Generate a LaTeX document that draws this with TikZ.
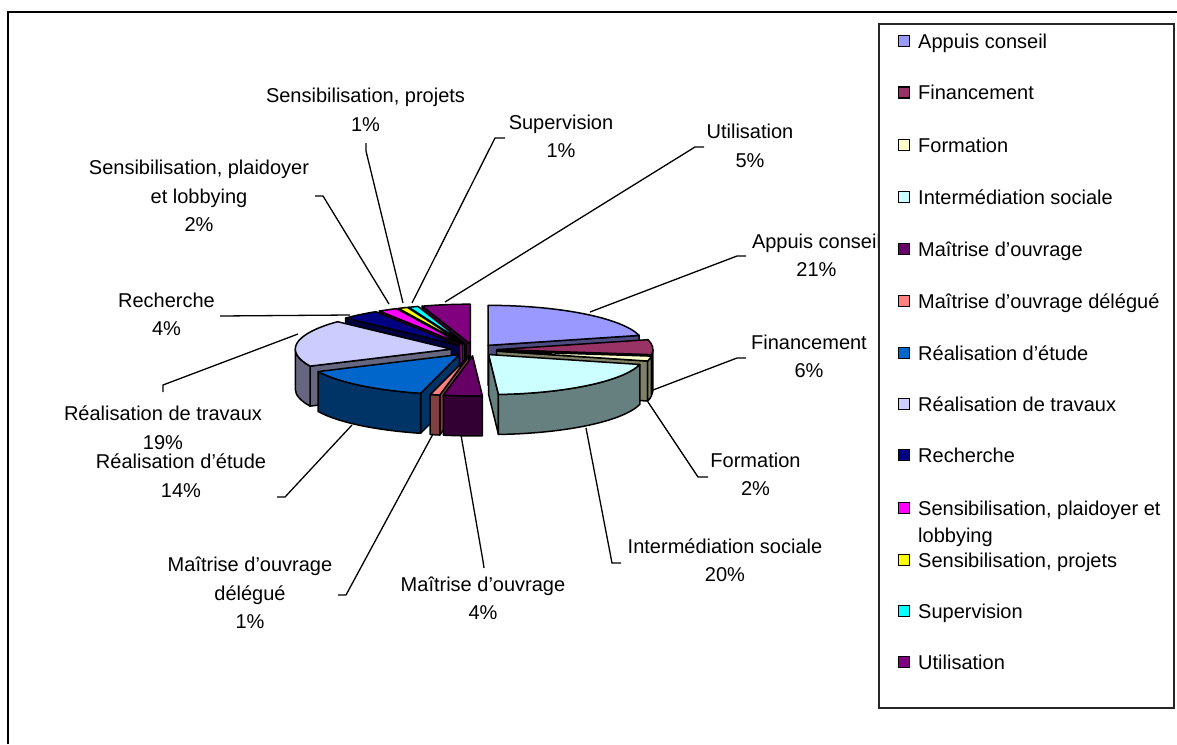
\documentclass[tikz,border=0pt]{standalone}
\usepackage{fontspec}
\setmainfont{Liberation Sans}
\definecolor{appuis}{HTML}{9999FF}
\definecolor{finance}{HTML}{993366}
\definecolor{formation}{HTML}{FFFFCC}
\definecolor{intermed}{HTML}{CCFFFF}
\definecolor{maitrise}{HTML}{660066}
\definecolor{maitdel}{HTML}{FF8080}
\definecolor{etude}{HTML}{0066CC}
\definecolor{travaux}{HTML}{CCCCFF}
\definecolor{recherche}{HTML}{000080}
\definecolor{plaidoyer}{HTML}{FF00FF}
\definecolor{projets}{HTML}{FFFF00}
\definecolor{supervis}{HTML}{00FFFF}
\definecolor{utilis}{HTML}{800080}

\begin{document}
\begin{tikzpicture}[
    x = 1pt,
    y = -1pt,
    slice/.style = {draw=black, line width=1.5pt, line join=round},
    lbl/.style = {font=\fontsize{20}{28.5}\selectfont, align=center,
    inner sep=0pt},
    leader/.style = {draw=black, line width=1.3pt},
    key/.style = {draw=black, line width=1.2pt, minimum size=11pt,
    inner sep=0pt},
    keytext/.style = {font=\fontsize{20}{27}\selectfont, inner sep=0pt,
    anchor=base west},
]
\path[use as bounding box] (0,0) rectangle (1177,744);
\draw [line width=1.6pt] (8,744) -- (8,12) -- (1177,12);

% pie, back slices first
\begin{scope}[shift={(474,350)}, y=1pt]
\foreach \aa/\ab/\col in {108/90/utilis, 111.6/108/supervis,
    115.2/111.6/projets, 122.4/115.2/plaidoyer, 90/14.4/appuis,
    136.8/122.4/recherche, -154.8/-223.2/travaux, 14.4/-7.2/finance,
    -7.2/-14.4/formation, -14.4/-86.4/intermed, -104.4/-154.8/etude,
    -100.8/-104.4/maitdel, -86.4/-100.8/maitrise}{
    \pgfmathsetmacro\pam{(\aa+\ab)/2}
    \pgfmathsetmacro\pmx{23*cos(\pam)}
    \pgfmathsetmacro\pmy{23*0.256*sin(\pam)}
    \pgfmathsetmacro\pca{cos(\aa)}
    \pgfmathsetmacro\pcb{cos(\ab)}
    \pgfmathsetmacro\pbl{max(\ab,-180)}
    \pgfmathsetmacro\pbr{min(\aa,0)}
    \ifdim\pca pt<-0.001pt
    \filldraw [slice, fill=\col!50!black] (\pmx,\pmy) -- ++(\aa:156 and 40)
        -- ++(0,-40) -- (\pmx,\pmy-40) -- cycle;
    \fi
    \ifdim\pcb pt>0.001pt
    \filldraw [slice, fill=\col!50!black] (\pmx,\pmy) -- ++(\ab:156 and 40)
        -- ++(0,-40) -- (\pmx,\pmy-40) -- cycle;
    \fi
    \ifdim\pbl pt<\pbr pt
    \filldraw [slice, fill=\col!50!black] (\pmx,\pmy) ++(\pbl:156 and 40)
        arc [start angle=\pbl, end angle=\pbr, x radius=156, y radius=40]
        -- ++(0,-40)
        arc [start angle=\pbr, end angle=\pbl, x radius=156, y radius=40]
        -- cycle;
    \fi
    \filldraw [slice, fill=\col] (\pmx,\pmy) -- ++(\ab:156 and 40)
        arc [start angle=\ab, end angle=\aa, x radius=156, y radius=40]
        -- cycle;
}
\end{scope}

% labels
\node[lbl] (l-projets) at (365.5,110) {Sensibilisation, projets\\1\%};
\node[lbl] (l-supervis) at (561,136.5) {Supervision\\1\%};
\node[lbl] (l-utilis) at (750,146) {Utilisation\\5\%};
\node[lbl] (l-appuis) at (816.5,255.5) {Appuis conseil\\21\%};
\node[lbl] (l-finance) at (809,356.5) {Financement\\6\%};
\node[lbl] (l-formation) at (755.5,474.5) {Formation\\2\%};
\node[lbl] (l-intermed) at (725,560) {Intermédiation sociale\\20\%};
\node[lbl] (l-maitrise) at (483,598.5) {Maîtrise d’ouvrage\\4\%};
\node[lbl] (l-maitdel) at (250,593) {Maîtrise d’ouvrage\\délégué\\1\%};
\node[lbl] (l-etude) at (181,475.5) {Réalisation d’étude\\14\%};
\node[lbl] (l-travaux) at (163,427.5) {Réalisation de travaux\\19\%};
\node[lbl] (l-recherche) at (166.5,314.5) {Recherche\\4\%};
\node[lbl] (l-plaidoyer) at (199,196) {Sensibilisation, plaidoyer\\et lobbying\\2\%};

% leader lines
\coordinate (t-projets) at (366,143);
\coordinate (p-projets) at (403,303);
\coordinate (t-supervis) at (505,138);
\coordinate (p-supervis) at (412,303);
\coordinate (t-utilis) at (704,147);
\coordinate (p-utilis) at (445,302);
\coordinate (t-appuis) at (746,256);
\coordinate (p-appuis) at (590,312);
\coordinate (t-finance) at (746,358);
\coordinate (p-finance) at (653,390);
\coordinate (t-formation) at (708,477);
\coordinate (p-formation) at (648,402);
\coordinate (t-intermed) at (621,563);
\coordinate (p-intermed) at (586,428);
\coordinate (t-maitrise) at (484,568);
\coordinate (p-maitrise) at (461,435);
\coordinate (t-maitdel) at (338,595);
\coordinate (p-maitdel) at (433,434);
\coordinate (t-etude) at (277,497);
\coordinate (p-etude) at (352,425);
\coordinate (t-travaux) at (163,392);
\coordinate (p-travaux) at (298,334);
\coordinate (t-recherche) at (220,316);
\coordinate (p-recherche) at (350,315);
\coordinate (t-plaidoyer) at (315,196);
\coordinate (p-plaidoyer) at (389,304);

\draw[leader] (t-projets) -- ++(0,8) -- (p-projets);
\draw[leader] (t-supervis) -- ++(-10,0) -- (p-supervis);
\draw[leader] (t-utilis) -- ++(-9,0) -- (p-utilis);
\draw[leader] (t-appuis) -- ++(-9,0) -- (p-appuis);
\draw[leader] (t-finance) -- ++(-9,0) -- (p-finance);
\draw[leader] (t-formation) -- ++(-10,0) -- (p-formation);
\draw[leader] (t-intermed) -- ++(-9,0) -- (p-intermed);
\draw[leader] (t-maitrise) -- ++(-1,-7) -- (p-maitrise);
\draw[leader] (t-maitdel) -- ++(8,0) -- (p-maitdel);
\draw[leader] (t-etude) -- ++(8,0) -- (p-etude);
\draw[leader] (t-travaux) -- ++(0,-7) -- (p-travaux);
\draw[leader] (t-recherche) -- (p-recherche);
\draw[leader] (t-plaidoyer) -- ++(8,0) -- (p-plaidoyer);

% legend
\draw[line width=1.4pt, draw=black!85, fill=white] (879,24) rectangle (1174,708);
\node[key, fill=appuis] (k-appuis) at (904,41) {};
\node[key, fill=finance] (k-finance) at (904,92.5) {};
\node[key, fill=formation] (k-formation) at (904,145) {};
\node[key, fill=intermed] (k-intermed) at (904,197) {};
\node[key, fill=maitrise] (k-maitrise) at (904,249) {};
\node[key, fill=maitdel] (k-maitdel) at (904,301) {};
\node[key, fill=etude] (k-etude) at (904,353) {};
\node[key, fill=travaux] (k-travaux) at (904,404) {};
\node[key, fill=recherche] (k-recherche) at (904,455) {};
\node[key, fill=plaidoyer] (k-plaidoyer) at (904,508) {};
\node[key, fill=projets] (k-projets) at (904,560) {};
\node[key, fill=supervis] (k-supervis) at (904,611) {};
\node[key, fill=utilis] (k-utilis) at (904,662) {};
\node[keytext] (n-appuis) at (918,48) {Appuis conseil};
\node[keytext] (n-finance) at (918,99.5) {Financement};
\node[keytext] (n-formation) at (918,152) {Formation};
\node[keytext] (n-intermed) at (918,204) {Intermédiation sociale};
\node[keytext] (n-maitrise) at (918,256) {Maîtrise d’ouvrage};
\node[keytext] (n-maitdel) at (918,308) {Maîtrise d’ouvrage délégué};
\node[keytext] (n-etude) at (918,360) {Réalisation d’étude};
\node[keytext] (n-travaux) at (918,411) {Réalisation de travaux};
\node[keytext] (n-recherche) at (918,462) {Recherche};
\node[keytext, anchor=north west, align=left] (n-plaidoyer) at (918,500.5)
    {Sensibilisation, plaidoyer et\\lobbying};
\node[keytext] (n-projets) at (918,567) {Sensibilisation, projets};
\node[keytext] (n-supervis) at (918,618) {Supervision};
\node[keytext] (n-utilis) at (918,669) {Utilisation};

\end{tikzpicture}
\end{document}
